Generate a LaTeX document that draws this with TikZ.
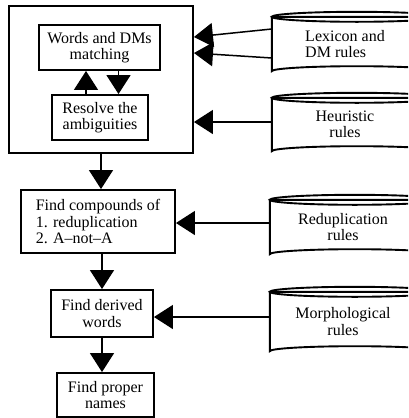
\documentclass[tikz,border=0pt]{standalone}
\usepackage{fontspec}
\setmainfont{Liberation Serif}
\usetikzlibrary{arrows.meta}
\tikzset{
  box/.style={draw, line width=1.9pt, rectangle, inner sep=0pt, align=center, font=\fontsize{16}{16.5}\selectfont},
  body/.style={rectangle, inner sep=0pt, align=center, minimum width=146pt, font=\fontsize{16}{16.5}\selectfont},
  arr/.style={line width=1.5pt, -{Triangle[length=19pt,width=24pt]}},
  cyl/.style={line width=1.9pt}
}
\newcommand{\cylout}[1]{%
  \draw[cyl] ([xshift=85pt]#1.north west) ellipse[x radius=85pt, y radius=5pt];
  \draw[cyl] ([xshift=170pt]#1.north west) -- (#1.north west) -- (#1.south west) arc[start angle=180, end angle=360, x radius=85pt, y radius=-5pt];
}
\begin{document}
\begin{tikzpicture}[x=1pt,y=-1pt]
\useasboundingbox (0,0) rectangle (408,418);
\clip (0,0) rectangle (408,418);
% left column
\node[box, minimum width=184pt, minimum height=147pt] (outer) at (101,79.5) {};
\node[box, minimum width=121pt, minimum height=45pt] (words) at (99.5,47.5) {Words and DMs\\matching};
\node[box, minimum width=96pt, minimum height=45pt] (resolve) at (100,117.5) {Resolve the\\ambiguities};
\node[box, align=left, minimum width=154pt, minimum height=63pt] (comp) at (98,221.5) {Find compounds of\\1. reduplication\\2. A--not--A};
\node[box, minimum width=102pt, minimum height=47pt] (derived) at (102,313.5) {Find derived\\words};
\node[box, minimum width=97pt, minimum height=44pt] (proper) at (105.5,395) {Find proper\\names};
% cylinders (right, cut by the page edge)
\node[body, align=left, minimum height=54pt] (lex) at (345,44) {Lexicon and\\DM rules};
\node[body, minimum height=53pt] (heur) at (345,124.5) {Heuristic\\rules};
\node[body, minimum height=54pt] (redup) at (343,227) {Reduplication\\rules};
\node[body, minimum height=59pt] (morph) at (343,321.5) {Morphological\\rules};
\cylout{lex}
\cylout{heur}
\cylout{redup}
\cylout{morph}
% connectors
\draw[arr] ([xshift=-14pt]resolve.north) -- ([xshift=-14pt]resolve.north |- words.south);
\draw[arr] ([xshift=19pt]words.south) -- ([xshift=19pt]words.south |- resolve.north);
\draw[arr] ([yshift=15pt]lex.west) -- (outer.east |- 0,37);
\draw[arr] ([yshift=-14pt]lex.west) -- (outer.east |- 0,53);
\draw[arr] ([yshift=2.5pt]heur.west) -- ([yshift=2.5pt]heur.west -| outer.east);
\draw[arr] ([yshift=4pt]redup.west) -- ([yshift=4pt]redup.west -| comp.east);
\draw[arr] ([yshift=4.5pt]morph.west) -- ([yshift=4.5pt]morph.west -| derived.east);
\draw[arr] (outer.south) -- (outer.south |- comp.north);
\draw[arr] (derived.north |- comp.south) -- (derived.north);
\draw[arr] (derived.south) -- (derived.south |- proper.north);
\end{tikzpicture}
\end{document}
